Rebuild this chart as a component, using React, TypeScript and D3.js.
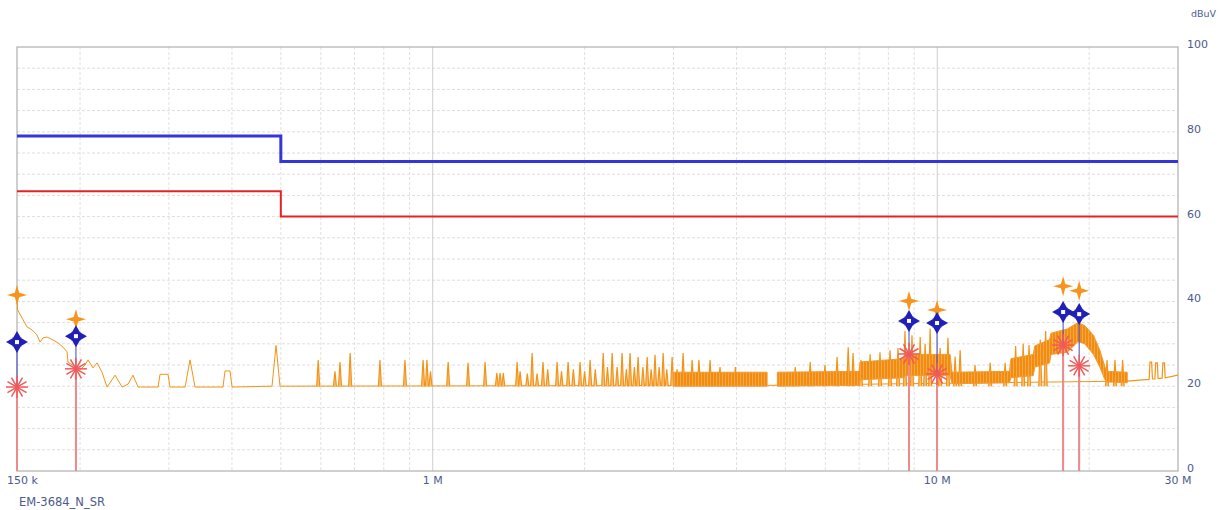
import React from 'react';
import * as d3 from 'd3';

// ---------- data ----------
const yTickValues = [0, 20, 40, 60, 80, 100];
const yGridValues = [5, 10, 15, 20, 25, 30, 35, 40, 45, 50, 55, 60, 65, 70, 75, 80, 85, 90, 95];
const xTickFreqs = [0.15, 1, 10, 30];
const xTickLabels = ['150 k', '1 M', '10 M', '30 M'];
const xMinorGrid = [0.2, 0.3, 0.4, 0.5, 0.6, 0.7, 0.8, 0.9, 2, 3, 4, 5, 6, 7, 8, 9, 20];
const xDecadeGrid = [1, 10];

const limitFreqs = [0.15, 0.5, 0.5, 30];
const qpLimit = [79, 79, 73, 73];
const avLimit = [66, 66, 60, 60];

// spectrum trace (MHz, dBuV)
const lowTrace: [number, number][] = [
  [0.15, 41.0], [0.1504, 38.0], [0.157, 34.0], [0.1606, 33.3], [0.1643, 32.1], [0.1666, 30.4],
  [0.1689, 31.4], [0.172, 31.6], [0.1768, 30.9], [0.1809, 30.2], [0.1851, 29.2], [0.1885, 28.1],
  [0.1893, 25.7], [0.2, 23.8], [0.2046, 25.0], [0.2074, 26.2], [0.2122, 24.3], [0.2161, 25.5],
  [0.2211, 23.3], [0.2262, 19.8], [0.2347, 22.6], [0.2423, 19.8], [0.249, 20.5], [0.2547, 22.6],
  [0.2606, 19.8], [0.2856, 19.8], [0.2881, 22.8], [0.2988, 22.8], [0.3015, 19.8], [0.323, 19.8],
  [0.3304, 26.2], [0.338, 19.8], [0.384, 19.8], [0.3876, 23.6], [0.3966, 23.6], [0.4002, 19.8],
  [0.4803, 20.0], [0.4892, 29.6], [0.4982, 20.0],
];
const floorTrace: [number, number][] = [[0.4982, 20.0], [4.6, 20.2], [23.8, 21.2]];
const tailTrace: [number, number][] = [
  [23.8, 21.2], [25.5, 21.5], [26.3, 21.6], [26.4, 25.7], [26.6, 25.7], [26.7, 21.7], [27.0, 21.7],
  [27.1, 25.5], [27.3, 25.5], [27.4, 21.8], [27.9, 21.9], [28.0, 25.5], [28.2, 25.5], [28.3, 22.0], [30, 22.6],
];
const spikes: [number, number][] = [
  [0.593, 26.2], [0.64, 23.5], [0.655, 25.7], [0.686, 27.8], [0.786, 26.2], [0.881, 26.2], [0.957, 26.2],
  [0.974, 26.2], [0.99, 23.5], [1.073, 25.7], [1.175, 25.5], [1.27, 25.7], [1.34, 23.1], [1.36, 23.1],
  [1.38, 23.1], [1.47, 25.7], [1.49, 23.5], [1.54, 23.0], [1.574, 27.8], [1.61, 23.0], [1.654, 25.7],
  [1.69, 24.0], [1.764, 25.7], [1.8, 23.5], [1.855, 25.7], [1.9, 24.0], [1.959, 25.7], [2.0, 23.5],
  [2.051, 26.2], [2.1, 24.0], [2.177, 27.8], [2.22, 24.5], [2.268, 27.8], [2.32, 24.5], [2.373, 27.8],
  [2.42, 24.0], [2.461, 27.8], [2.51, 24.5], [2.553, 26.9], [2.61, 24.5], [2.661, 26.9], [2.71, 24.0],
  [2.758, 27.4], [2.81, 24.5], [2.862, 27.8], [2.91, 24.0], [2.982, 26.9], [3.05, 24.0], [3.135, 27.8],
  [3.267, 26.2], [3.37, 26.2], [3.546, 26.2], [3.71, 24.5], [3.98, 24.5], [5.23, 24.5], [5.6, 25.7],
  [5.99, 25.0], [6.33, 26.9], [6.66, 29.2], [6.81, 27.8], [7.06, 26.2], [7.36, 27.5], [7.7, 28.0],
  [8.06, 28.5], [8.36, 29.0], [8.63, 33.0], [8.91, 32.0], [9.25, 31.6], [9.46, 30.0], [9.68, 33.6],
  [10.13, 29.0], [10.5, 31.4], [10.85, 27.0], [11.1, 28.5], [11.88, 25.0], [12.73, 25.5], [13.63, 25.5],
  [14.3, 29.5], [14.8, 30.0], [15.2, 29.7], [16.0, 31.0], [16.4, 33.0], [21.7, 26.2], [22.5, 26.2], [23.3, 26.2],
];
// dense sweep envelopes (MHz, low dBuV, high dBuV)
const bandA: [number, number, number][] = [[3.0, 20.0, 23.3], [4.6, 20.0, 23.3]];
const bandB: [number, number, number][] = [
  [4.82, 20.0, 23.3], [7.0, 20.2, 23.5], [7.03, 21.5, 25.7], [8.6, 22.0, 26.5], [8.63, 22.5, 27.5],
  [10.6, 22.5, 27.5], [10.7, 20.6, 23.3], [13.9, 20.8, 23.5], [14.0, 22.0, 26.5], [15.5, 22.5, 27.5],
  [15.6, 24.5, 29.5], [16.7, 25.5, 31.0], [16.8, 27.5, 32.5], [18.1, 28.0, 33.5], [19.0, 30.5, 35.0],
  [19.6, 30.0, 34.3], [20.4, 27.5, 32.0], [21.0, 24.5, 28.5], [21.5, 21.5, 24.5], [21.7, 21.0, 23.5],
  [23.8, 20.8, 23.3],
];

// final measurements
const markerFreqs = [0.15, 0.1963, 8.79, 9.99, 17.76, 19.11];
const peakValues = [41.5, 35.8, 40.1, 38.0, 43.6, 42.5];
const qpValues = [30.4, 31.8, 35.4, 34.9, 37.5, 37.0];
const avValues = [19.8, 24.1, 27.6, 22.9, 29.7, 24.8];

const traceName = 'EM-3684_N_SR';
const unitLabel = 'dBuV';

// ---------- styling ----------
const W = 1219, H = 510;
const L = 17, R = 1178, T = 47, B = 471;
const ORANGE = '#f39418';
const TEXT = '#4d5a8c';
const FONT = 'DejaVu Sans, sans-serif';

export default function App() {
  const x = d3.scaleLog().domain([0.15, 30]).range([L, R]);
  const y = d3.scaleLinear().domain([0, 100]).range([B, T]);

  const line = d3.line<[number, number]>().x(d => x(d[0])).y(d => y(d[1]));
  const area = d3.area<[number, number, number]>().x(d => x(d[0])).y0(d => y(d[1])).y1(d => y(d[2]));
  const limitPts = (vals: number[]) => limitFreqs.map((f, i) => [f, vals[i]] as [number, number]);

  const starPath = 'M0,-10 L2.2,-2.2 L10,0 L2.2,2.2 L0,10 L-2.2,2.2 L-10,0 L-2.2,-2.2 Z';
  const qpPath = 'M-4,-4 L0,-11 L4,-4 Z M4,-4 L11,0 L4,4 Z M4,4 L0,11 L-4,4 Z M-4,4 L-11,0 L-4,-4 Z M-4.5,-4.5 H4.5 V4.5 H-4.5 Z';
  const avAngles = [0, 30, 60, 90, 120, 150];

  return (
    <svg width={W} height={H} style={{ position: 'absolute', left: 0, top: 0, background: '#fff' }} fontFamily={FONT}>
      <defs>
        <pattern id="sweep" width={3} height={4} patternUnits="userSpaceOnUse">
          <rect x={0} y={0} width={3} height={4} fill="#f7a846" />
          <rect x={0} y={0} width={2} height={4} fill="#f28c10" />
        </pattern>
      </defs>
      <rect x={0} y={0} width={W} height={H} fill="#fff" />
      {/* grid */}
      {yGridValues.map(v => (
        <line key={'hg' + v} x1={L} x2={R} y1={y(v)} y2={y(v)} stroke="#dedede" strokeWidth={1} strokeDasharray="3,2" />
      ))}
      {xMinorGrid.map(f => (
        <line key={'vg' + f} x1={x(f)} x2={x(f)} y1={T} y2={B} stroke="#e0e0e0" strokeWidth={1} strokeDasharray="3,2" />
      ))}
      {xDecadeGrid.map(f => (
        <line key={'dg' + f} x1={x(f)} x2={x(f)} y1={T} y2={B} stroke="#cdcdcd" strokeWidth={1} />
      ))}
      {/* frame */}
      <rect x={L} y={T} width={R - L} height={B - T} fill="none" stroke="#b0b0b0" strokeWidth={1.2} />

      {/* limit lines */}
      <path d={line(limitPts(qpLimit)) || ''} fill="none" stroke="#3535dc" strokeWidth={3} />
      <path d={line(limitPts(avLimit)) || ''} fill="none" stroke="#e62222" strokeWidth={2} />

      {/* spectrum */}
      <path d={line(lowTrace) || ''} fill="none" stroke={ORANGE} strokeWidth={1} />
      <path d={line(floorTrace) || ''} fill="none" stroke={ORANGE} strokeWidth={1} />
      {spikes.map(([f, v], i) => (
        <path key={'sp' + i}
          d={`M${x(f) - 1.5},${y(20)} L${x(f)},${y(v)} L${x(f) + 1.5},${y(20)}`}
          fill="#f9c07a" stroke={ORANGE} strokeWidth={1.2} />
      ))}
      <path d={area(bandA) || ''} fill="url(#sweep)" stroke="#f39a30" strokeWidth={1} />
      <path d={area(bandB) || ''} fill="url(#sweep)" stroke="#f39a30" strokeWidth={1} />
      <path d={line(tailTrace) || ''} fill="none" stroke={ORANGE} strokeWidth={1.2} />

      {/* measurement stems */}
      {markerFreqs.map((f, i) => (
        <g key={'st' + i}>
          <line x1={x(f)} x2={x(f)} y1={y(0)} y2={y(qpValues[i])} stroke="#4646c8" strokeWidth={1} />
          <line x1={x(f)} x2={x(f)} y1={y(0)} y2={y(avValues[i])} stroke="#f08a8a" strokeWidth={2} />
        </g>
      ))}
      {/* markers */}
      {markerFreqs.map((f, i) => (
        <g key={'mk' + i}>
          <path d={starPath} transform={`translate(${x(f)},${y(peakValues[i])})`} fill="#f7941d" />
          <g transform={`translate(${x(f)},${y(qpValues[i])})`}>
            <path d={qpPath} fill="#2020b8" />
            <rect x={-2} y={-2} width={4} height={4} fill="#fff" />
          </g>
          <g transform={`translate(${x(f)},${y(avValues[i])})`}>
            {avAngles.map(a => (
              <line key={a} x1={-11 * Math.cos(a * Math.PI / 180)} y1={-11 * Math.sin(a * Math.PI / 180)}
                x2={11 * Math.cos(a * Math.PI / 180)} y2={11 * Math.sin(a * Math.PI / 180)}
                stroke="#f05a5a" strokeWidth={1.5} />
            ))}
          </g>
        </g>
      ))}

      {/* axis labels */}
      {yTickValues.map(v => (
        <text key={'yt' + v} x={R + 9} y={y(v) + 1} fontSize={11} fill={TEXT}>{v}</text>
      ))}
      <text x={R + 13} y={17} fontSize={9.5} fill={TEXT}>{unitLabel}</text>
      {xTickFreqs.map((f, i) => (
        <text key={'xt' + f} x={i === 0 ? x(f) - 10 : x(f)} y={484} fontSize={11}
          fill={TEXT} textAnchor={i === 0 ? 'start' : 'middle'}>{xTickLabels[i]}</text>
      ))}
      <text x={19} y={506} fontSize={11.5} fill={TEXT}>{traceName}</text>
    </svg>
  );
}
